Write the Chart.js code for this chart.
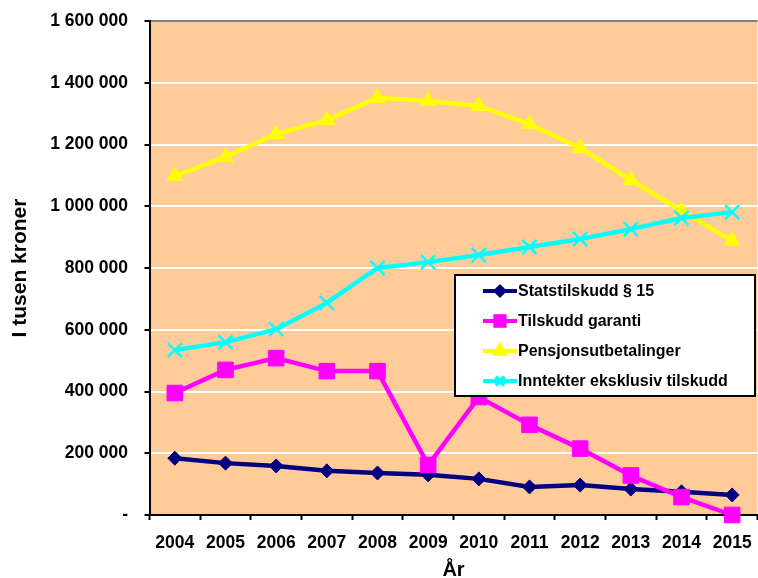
<!DOCTYPE html>
<html>
<head>
<meta charset="utf-8">
<script src="https://cdn.jsdelivr.net/npm/chart.js@4/dist/chart.umd.min.js"></script>
<style>
  html, body { margin: 0; padding: 0; background: #fff; overflow: hidden; }
  #wrap { width: 770px; height: 578px; }
</style>
</head>
<body>
<div id="wrap"><canvas id="chart" width="770" height="578"></canvas></div>
<script>
const years = ['2004','2005','2006','2007','2008','2009','2010','2011','2012','2013','2014','2015'];
const statstilskudd = [184000,168000,159000,143000,136000,130000,117000,91000,97000,84000,75000,65000];
const tilskuddGaranti = [395000,470000,508000,466000,466000,162000,382000,292000,215000,128000,58000,0];
const pensjon = [1098000,1160000,1234000,1279000,1351000,1341000,1325000,1266000,1189000,1085000,985000,888000];
const inntekter = [534000,560000,602000,687000,800000,819000,842000,868000,894000,926000,962000,981000];
const seriesNames = ['Statstilskudd § 15','Tilskudd garanti','Pensjonsutbetalinger','Inntekter eksklusiv tilskudd'];

const FONT = '"Liberation Sans", Arial, sans-serif';

function fmt(v){
	if (v === 0) return '-';
	return String(v).replace(/\B(?=(\d{3})+(?!\d))/g, ' ');
}

// orange plot background
const plotBg = {
	id: 'plotBg',
	beforeDraw(chart){
		const {ctx, chartArea:a} = chart;
		ctx.save();
		ctx.fillStyle = '#FFCC99';
		ctx.fillRect(a.left, a.top, a.right - a.left, a.bottom - a.top);
		ctx.restore();
	}
};

// legend box drawn inside the plot, on top of lines
const boxLegend = {
	id: 'boxLegend',
	afterDatasetsDraw(chart){
		const ctx = chart.ctx;
		ctx.save();
		ctx.fillStyle = '#fff';
		ctx.strokeStyle = '#000';
		ctx.lineWidth = 2;
		ctx.fillRect(455, 275, 300, 121);
		ctx.strokeRect(455, 275, 300, 121);
		ctx.font = 'bold 16px ' + FONT;
		ctx.textBaseline = 'middle';
		chart.data.datasets.forEach((ds, i) => {
			const y = 291 + i * 30;
			ctx.strokeStyle = ds.borderColor;
			ctx.lineWidth = 4;
			ctx.beginPath();
			ctx.moveTo(483, y);
			ctx.lineTo(517, y);
			ctx.stroke();
			ctx.fillStyle = ds.pointBackgroundColor;
			ctx.strokeStyle = ds.pointBorderColor;
			Chart.helpers.drawPoint(ctx, {pointStyle: ds.pointStyle, radius: ds.pointRadius * 0.6, rotation: 0, borderWidth: ds.pointBorderWidth}, 500, y);
			ctx.fillStyle = '#000';
			ctx.fillText(seriesNames[i], 518, y + 1);
		});
		ctx.restore();
	}
};

new Chart(document.getElementById('chart'), {
	type: 'line',
	data: {
		labels: years,
		datasets: [
			{
				label: seriesNames[0], data: statstilskudd, order: 4,
				borderColor: '#000080', borderWidth: 4.5,
				pointStyle: 'rectRot', pointRadius: 7,
				pointBackgroundColor: '#000080', pointBorderColor: '#000080', pointBorderWidth: 1
			},
			{
				label: seriesNames[1], data: tilskuddGaranti, order: 3,
				borderColor: '#FF00FF', borderWidth: 4.5,
				pointStyle: 'rect', pointRadius: 11,
				pointBackgroundColor: '#FF00FF', pointBorderColor: '#FF00FF', pointBorderWidth: 1
			},
			{
				label: seriesNames[2], data: pensjon, order: 2,
				borderColor: '#FFFF00', borderWidth: 4.5,
				pointStyle: 'triangle', pointRadius: 9,
				pointBackgroundColor: '#FFFF00', pointBorderColor: '#FFFF00', pointBorderWidth: 1
			},
			{
				label: seriesNames[3], data: inntekter, order: 1,
				borderColor: '#00FFFF', borderWidth: 4.5,
				pointStyle: 'crossRot', pointRadius: 10,
				pointBackgroundColor: '#00FFFF', pointBorderColor: '#00FFFF', pointBorderWidth: 2.5
			}
		]
	},
	options: {
		responsive: false,
		animation: false,
		clip: false,
		layout: { padding: { top: 21, right: 8.5, left: 0, bottom: 0 } },
		plugins: { legend: { display: false }, tooltip: { enabled: false } },
		elements: { line: { tension: 0 } },
		scales: {
			x: {
				offset: true,
				grid: { offset: true, drawOnChartArea: false, tickLength: 5, tickColor: '#000', tickWidth: 2 },
				border: { color: '#000', width: 2 },
				ticks: { color: '#000', font: { family: FONT, size: 17.5, weight: 'bold' }, padding: 12.5, maxRotation: 0, autoSkip: false },
				title: { display: true, text: 'År', color: '#000', font: { family: FONT, size: 20, weight: 'bold' }, padding: { top: 0, bottom: -4 } },
				afterFit(s){ s.height = 63; }
			},
			y: {
				min: 0, max: 1600000,
				grid: {
					color: c => (c.tick && c.tick.value === 1600000) ? '#808080' : '#fff',
					lineWidth: 2, tickLength: 5, tickColor: '#000', tickWidth: 2
				},
				border: { color: '#000', width: 2 },
				ticks: { stepSize: 200000, color: '#000', padding: 16.5, font: { family: FONT, size: 17.5, weight: 'bold' }, callback: v => fmt(v) },
				title: { display: true, text: 'I tusen kroner', color: '#000', font: { family: FONT, size: 21, weight: 'bold' }, padding: { top: 8, bottom: 0 } },
				afterFit(s){
					s.width = 149.5;
					// labels may overhang the plot edge, the layout padding covers it
					s.paddingTop = 0;
					s.paddingBottom = 0;
				}
			}
		}
	},
	plugins: [plotBg, boxLegend]
});
</script>
</body>
</html>
